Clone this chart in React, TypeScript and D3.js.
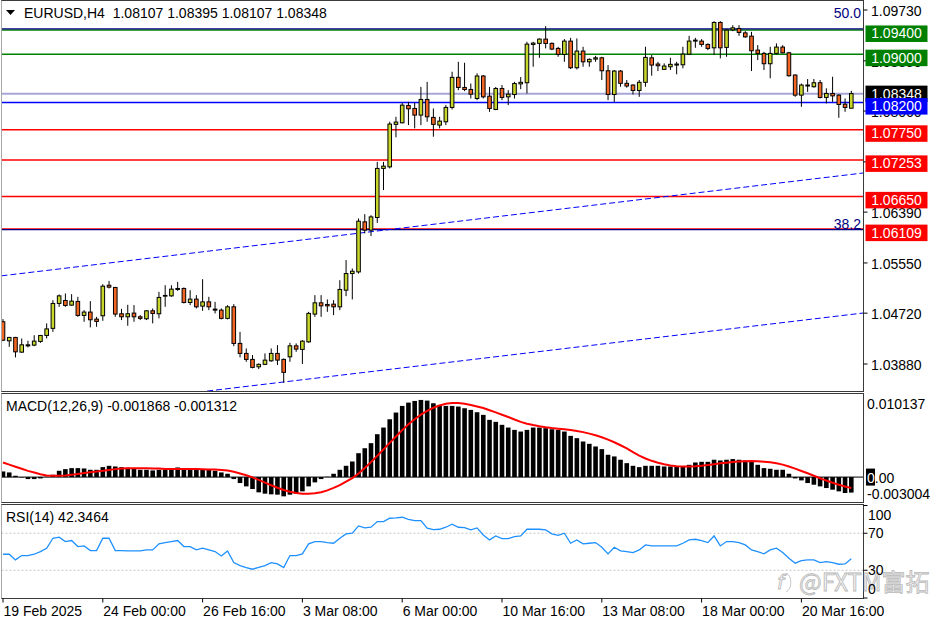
import * as d3 from "d3";

// EURUSD H4, 19 Feb - 21 Mar 2025
const opens = [
  1.04578, 1.04263, 1.04319, 1.04076, 1.0418, 1.04192, 1.04253, 1.04352, 1.04469, 1.04881,
  1.0493, 1.04853, 1.04914, 1.04683, 1.04738, 1.04622, 1.04677, 1.05182, 1.05145, 1.0471,
  1.0466, 1.04721, 1.0466, 1.04627, 1.04759, 1.0471, 1.05001, 1.05006, 1.05112, 1.05128,
  1.04897, 1.04952, 1.04836, 1.04907, 1.04787, 1.0477, 1.04634, 1.04825, 1.0422, 1.04055,
  1.03956, 1.03834, 1.03874, 1.03933, 1.04055, 1.03956, 1.03999, 1.0418, 1.04121, 1.04246,
  1.04705, 1.04891, 1.04864, 1.04869, 1.04825, 1.051, 1.05375, 1.05402, 1.06229, 1.06092,
  1.06301, 1.07112, 1.07138, 1.0784, 1.07866, 1.08153, 1.08103, 1.07993, 1.08252, 1.07955,
  1.07828, 1.07883, 1.0812, 1.08617, 1.0845, 1.08417, 1.08268, 1.08639, 1.08306, 1.08087,
  1.08433, 1.08295, 1.08334, 1.08509, 1.08528, 1.09161, 1.09178, 1.09249, 1.09178, 1.09095,
  1.08996, 1.09216, 1.08776, 1.09051, 1.08874, 1.08919, 1.0894, 1.08726, 1.08334, 1.08721,
  1.08518, 1.0849, 1.084, 1.08535, 1.0894, 1.08837, 1.08749, 1.08792, 1.0882, 1.08825,
  1.09001, 1.09216, 1.09216, 1.09161, 1.09105, 1.09524, 1.09112, 1.09402, 1.09425, 1.09352,
  1.09298, 1.09067, 1.09013, 1.08842, 1.09013, 1.09117, 1.09023, 1.08655, 1.08323, 1.08474,
  1.08462, 1.08528, 1.08285, 1.08351, 1.08323, 1.08174, 1.08107,
];
const highs = [
  1.04622, 1.04328, 1.04328, 1.04302, 1.04263, 1.04356, 1.04356, 1.04551, 1.04935, 1.05029,
  1.05046, 1.05034, 1.0499, 1.0477, 1.04919, 1.0466, 1.05199, 1.05253, 1.05154, 1.04792,
  1.04858, 1.04853, 1.04688, 1.0477, 1.04798, 1.05072, 1.05182, 1.05182, 1.05237, 1.05145,
  1.051, 1.05018, 1.05281, 1.0499, 1.04907, 1.04798, 1.04853, 1.04869, 1.04411, 1.04137,
  1.04027, 1.0389, 1.04055, 1.04137, 1.04192, 1.03972, 1.0423, 1.0422, 1.04274, 1.04742,
  1.05018, 1.05018, 1.04947, 1.04935, 1.05265, 1.05597, 1.05458, 1.06285, 1.06356, 1.06339,
  1.0722, 1.0722, 1.07883, 1.07965, 1.08196, 1.08212, 1.08196, 1.08459, 1.08542, 1.08103,
  1.07965, 1.08158, 1.0871, 1.08874, 1.08858, 1.08515, 1.08683, 1.08655, 1.08459, 1.08459,
  1.0849, 1.08405, 1.08542, 1.08622, 1.09204, 1.09204, 1.0926, 1.09463, 1.09194, 1.09122,
  1.09249, 1.0927, 1.0926, 1.09122, 1.0893, 1.08973, 1.08957, 1.0882, 1.08738, 1.08738,
  1.08573, 1.08502, 1.08573, 1.09122, 1.08985, 1.08874, 1.08848, 1.0894, 1.08874, 1.09122,
  1.09303, 1.0927, 1.09249, 1.09178, 1.09545, 1.09545, 1.09413, 1.09479, 1.09479, 1.0938,
  1.09369, 1.0915, 1.09039, 1.09122, 1.09178, 1.0915, 1.09039, 1.08667, 1.08515, 1.08589,
  1.08589, 1.08573, 1.08436, 1.08627, 1.08339, 1.08268, 1.08395,
];
const lows = [
  1.04258, 1.04164, 1.03989, 1.04065, 1.04154, 1.04175, 1.0423, 1.04302, 1.04411, 1.04825,
  1.04825, 1.04841, 1.0466, 1.04578, 1.04485, 1.04495, 1.04594, 1.05128, 1.0466, 1.04606,
  1.04512, 1.04578, 1.04606, 1.04606, 1.04551, 1.04634, 1.04825, 1.0499, 1.05089, 1.04881,
  1.04853, 1.04798, 1.04759, 1.0477, 1.04716, 1.04617, 1.04617, 1.04175, 1.03989, 1.03916,
  1.03808, 1.03796, 1.03862, 1.03916, 1.03862, 1.0357, 1.03916, 1.04081, 1.03879, 1.0423,
  1.0466, 1.0466, 1.04742, 1.04688, 1.0477, 1.05001, 1.04947, 1.05375, 1.06038, 1.05993,
  1.06212, 1.06754, 1.07112, 1.07626, 1.07856, 1.07828, 1.07774, 1.07828, 1.07883, 1.07636,
  1.07774, 1.07828, 1.08087, 1.08405, 1.08389, 1.08268, 1.0824, 1.08268, 1.08047, 1.08075,
  1.0824, 1.08158, 1.08268, 1.08422, 1.08351, 1.08792, 1.0894, 1.09095, 1.09067, 1.08957,
  1.08874, 1.08754, 1.08749, 1.08792, 1.08792, 1.08874, 1.08573, 1.0824, 1.08212, 1.08462,
  1.08446, 1.08334, 1.08295, 1.08462, 1.08644, 1.08721, 1.08738, 1.08738, 1.08667, 1.08766,
  1.08985, 1.09105, 1.09122, 1.09067, 1.08985, 1.0893, 1.08957, 1.0938, 1.09303, 1.0927,
  1.08721, 1.08902, 1.08738, 1.08601, 1.08996, 1.09013, 1.08627, 1.08295, 1.0813, 1.08377,
  1.08446, 1.08268, 1.08186, 1.08212, 1.07949, 1.08047, 1.08107,
];
const closes = [
  1.04274, 1.04319, 1.04081, 1.04197, 1.04197, 1.04258, 1.04352, 1.0446, 1.04881, 1.05006,
  1.04848, 1.04919, 1.04683, 1.04738, 1.04611, 1.04584, 1.05166, 1.0515, 1.04705, 1.0466,
  1.0471, 1.0466, 1.04634, 1.04759, 1.04716, 1.0498, 1.05013, 1.05117, 1.05128, 1.04897,
  1.04952, 1.04825, 1.04907, 1.04825, 1.0477, 1.04634, 1.04825, 1.0422, 1.04055, 1.03956,
  1.03824, 1.03874, 1.03944, 1.04055, 1.03944, 1.03742, 1.0418, 1.04126, 1.04258, 1.04716,
  1.04891, 1.04841, 1.04841, 1.04825, 1.05112, 1.05375, 1.05413, 1.0624, 1.06092, 1.06311,
  1.07112, 1.0715, 1.07845, 1.07878, 1.08158, 1.08097, 1.07993, 1.08252, 1.07965, 1.0784,
  1.07894, 1.0812, 1.08617, 1.0845, 1.08417, 1.08339, 1.08639, 1.08295, 1.08103, 1.08433,
  1.08285, 1.08339, 1.08515, 1.08535, 1.09166, 1.09183, 1.09249, 1.09178, 1.09084, 1.08996,
  1.09216, 1.08776, 1.09051, 1.08874, 1.08914, 1.0894, 1.08726, 1.08334, 1.08721, 1.08518,
  1.08474, 1.084, 1.08535, 1.08947, 1.0882, 1.08809, 1.08804, 1.08832, 1.08837, 1.09001,
  1.09216, 1.09232, 1.09161, 1.09095, 1.09524, 1.09105, 1.09397, 1.09435, 1.09359, 1.09286,
  1.09056, 1.09013, 1.08842, 1.09013, 1.09117, 1.09023, 1.08644, 1.08323, 1.0849, 1.0849,
  1.08528, 1.08285, 1.08351, 1.08311, 1.08169, 1.0812, 1.08348,
];

const macdHist = [
  0.00068, 0.00056, 0.00016, -0.00005, -0.00024, -0.00024, -0.00016, 0.00004, 0.00028, 0.00076,
  0.00096, 0.00108, 0.00108, 0.00104, 0.00088, 0.00088, 0.0012, 0.00136, 0.00128, 0.0012,
  0.00112, 0.00104, 0.00088, 0.00088, 0.0008, 0.00088, 0.00088, 0.00104, 0.00116, 0.00108,
  0.00104, 0.00088, 0.00096, 0.00088, 0.00076, 0.00056, 0.0004, -0.00024, -0.00072, -0.00112,
  -0.00144, -0.00184, -0.002, -0.00208, -0.00212, -0.00232, -0.00212, -0.002, -0.00172, -0.00112,
  -0.00064, -0.00024, 0.00004, 0.0004, 0.00088, 0.00136, 0.00188, 0.00288, 0.00348, 0.00409,
  0.00517, 0.00597, 0.00697, 0.00778, 0.00858, 0.00898, 0.00918, 0.0093, 0.00922, 0.0089,
  0.0087, 0.00858, 0.00858, 0.0085, 0.0083, 0.0081, 0.00782, 0.0075, 0.0069, 0.00666,
  0.0063, 0.00597, 0.00569, 0.00549, 0.00569, 0.00597, 0.00597, 0.0059, 0.00577, 0.00569,
  0.00549, 0.00497, 0.00469, 0.00429, 0.00401, 0.00369, 0.00337, 0.00269, 0.00249, 0.00209,
  0.00168, 0.00136, 0.0012, 0.00136, 0.00136, 0.00136, 0.00128, 0.00128, 0.00128, 0.00128,
  0.00148, 0.00176, 0.00184, 0.00184, 0.00209, 0.002, 0.00209, 0.00217, 0.00209, 0.002,
  0.00188, 0.00148, 0.00108, 0.001, 0.00088, 0.00088, 0.0004, -0.00016, -0.0004, -0.00072,
  -0.00092, -0.00112, -0.00132, -0.00152, -0.00172, -0.00192, -0.001868,
];
const macdSignal = [
  0.00176, 0.0015, 0.00125, 0.001, 0.00075, 0.00055, 0.00035, 0.0002, 0.00016, 0.00016,
  0.0002, 0.00028, 0.00036, 0.00048, 0.00058, 0.00068, 0.00076, 0.00086, 0.00096, 0.00102,
  0.00106, 0.00108, 0.00108, 0.00106, 0.00104, 0.00102, 0.00098, 0.00096, 0.00096, 0.00096,
  0.00096, 0.00096, 0.00094, 0.00092, 0.0009, 0.00086, 0.00078, 0.00064, 0.00044, 0.00022,
  -0.00004, -0.00034, -0.00066, -0.00098, -0.00128, -0.00156, -0.00176, -0.00192, -0.002, -0.00202,
  -0.00196, -0.00182, -0.0016, -0.0013, -0.00096, -0.00056, -0.00012, 0.00044, 0.0011, 0.0018,
  0.00256, 0.00334, 0.00412, 0.0049, 0.00566, 0.00636, 0.00698, 0.00752, 0.00798, 0.00836,
  0.00864, 0.00884, 0.00892, 0.00892, 0.00884, 0.0087, 0.00852, 0.00832, 0.00806, 0.0078,
  0.00752, 0.00724, 0.00694, 0.00666, 0.00644, 0.00628, 0.00614, 0.00602, 0.00592, 0.00584,
  0.00576, 0.00568, 0.00556, 0.00542, 0.00524, 0.00504, 0.0048, 0.00452, 0.0042, 0.00384,
  0.00346, 0.003, 0.00258, 0.00224, 0.00196, 0.00172, 0.00154, 0.0014, 0.00132, 0.00128,
  0.00128, 0.00132, 0.00138, 0.00146, 0.00156, 0.00166, 0.00174, 0.00182, 0.00188, 0.00192,
  0.00194, 0.00192, 0.00186, 0.00178, 0.00166, 0.0015, 0.00128, 0.00102, 0.00074, 0.00046,
  0.00016, -0.00014, -0.00042, -0.00068, -0.00092, -0.00114, -0.001312,
];
const rsiValues = [
  47.3, 47.3, 41.2, 45.9, 45.9, 47.3, 50.2, 53.8, 64.6, 65.7,
  61.0, 62.1, 55.6, 56.3, 51.3, 51.3, 64.6, 64.6, 51.3, 51.3,
  50.9, 50.9, 50.9, 52.0, 52.0, 58.5, 59.9, 61.0, 62.1, 55.6,
  55.6, 52.0, 53.8, 52.0, 50.2, 45.5, 50.9, 38.3, 35.0, 32.9,
  31.1, 33.2, 35.0, 38.3, 36.8, 32.9, 45.9, 45.9, 47.7, 58.5,
  61.0, 61.0, 59.9, 59.2, 64.6, 69.3, 70.0, 77.9, 75.8, 76.5,
  82.6, 82.6, 86.2, 86.6, 87.3, 85.1, 83.7, 83.7, 75.4, 74.0,
  74.3, 76.5, 79.7, 76.5, 76.1, 73.6, 75.8, 68.2, 62.8, 67.1,
  64.2, 64.2, 66.4, 67.1, 74.3, 74.3, 74.3, 73.6, 69.3, 67.8,
  70.0, 59.2, 62.8, 58.5, 59.2, 59.9, 54.9, 47.7, 54.9, 50.9,
  50.2, 49.1, 52.0, 57.4, 56.3, 56.3, 56.3, 56.3, 56.3, 59.2,
  62.8, 63.5, 62.1, 59.9, 67.1, 56.3, 61.0, 61.0, 59.9, 57.4,
  52.0, 50.2, 47.7, 52.0, 53.8, 49.1, 43.0, 37.6, 40.4, 41.2,
  41.2, 38.3, 39.4, 38.3, 36.5, 36.8, 42.3464,
];

const timeLabels = [
  "19 Feb 2025", "24 Feb 00:00", "26 Feb 16:00", "3 Mar 08:00", "6 Mar 00:00",
  "10 Mar 16:00", "13 Mar 08:00", "18 Mar 00:00", "20 Mar 16:00",
];
const barsPerTimeLabel = 16;

const priceTicks = [1.0973, 1.0889, 1.0806, 1.0722, 1.0639, 1.0555, 1.0472, 1.0388];
const levelPrices = [1.094, 1.09, 1.082, 1.0775, 1.07253, 1.0665, 1.06109];
const levelKinds = ["res", "res", "pivot", "sup", "sup", "sup", "sup"];
const fibNames = ["50.0", "38.2"];
const fibPrices = [1.09418, 1.061];
const channelUpper = [[0, 1.0534], [136, 1.07013]];
const channelLower = [[0, 1.03031], [136, 1.04699]];
const macdMax = 0.010137;
const macdMin = -0.003004;
const rsiLevels = [70, 30];
const rsiScaleLabels = [100, 70, 30, 0];

const FONT = "'Liberation Sans', Arial, sans-serif";
const W = 936;
const H = 624;
const MAIN = { top: 0.5, bottom: 391.5 };
const MACD = { top: 393.5, bottom: 502.5 };
const RSI = { top: 504.5, bottom: 598.5 };
const LEFT = 1.5;
const RIGHT = 863.5;

const BULL = "#c6d62b";
const BEAR = "#f26522";
const LEVEL_COLOR: Record<string, string> = { res: "#008000", pivot: "#0000ff", sup: "#ff0000" };

export default function App() {
  const last = closes.length - 1;
  const x = d3.scaleLinear().domain([0, last]).range([3, 851.3]);
  const y = d3.scaleLinear().domain([d3.min(priceTicks)!, d3.max(priceTicks)!]).range([364, 10]);
  const ym = d3.scaleLinear().domain([macdMin, macdMax]).range([502, 393]);
  const yr = d3.scaleLinear().domain([0, 100]).range([598, 505.5]);

  const clamp = (v: number, lo: number, hi: number) => Math.max(lo, Math.min(hi, v));

  const channelPath = (pts: number[][]) => {
    const x0 = x(pts[0][0]), y0 = y(pts[0][1]);
    const x1 = x(pts[1][0]), y1 = y(pts[1][1]);
    const k = (y1 - y0) / (x1 - x0);
    return `M${LEFT},${y0 + k * (LEFT - x0)}L${RIGHT},${y0 + k * (RIGHT - x0)}`;
  };

  const signalLine = d3.line<number>().x((_, i) => x(i)).y((d) => ym(d))(macdSignal) || "";
  const rsiLine = d3.line<number>().x((_, i) => x(i)).y((d) => yr(d))(rsiValues) || "";

  const cur = closes[last];
  const header = `EURUSD,H4  ${opens[last].toFixed(5)} ${highs[last].toFixed(5)} ${lows[last].toFixed(5)} ${closes[last].toFixed(5)}`;
  const zeroTxt = (0).toFixed(2);

  const levelBox = (p: number, color: string, centered: boolean, key: string) => {
    const ly = y(p);
    const top = centered ? ly - 8 : ly - 4.5;
    return (
      <g key={key}>
        <rect x={865.5} y={top} width={62} height={16.5} fill={color} />
        <text x={896.5} y={top + 13} textAnchor="middle" fill="#fff" fontSize={14}>
          {p.toFixed(5)}
        </text>
      </g>
    );
  };

  return (
    <svg
      width={W}
      height={H}
      style={{ position: "fixed", left: 0, top: 0, background: "#fff", fontFamily: FONT }}
    >
      <defs>
        <clipPath id="mainClip">
          <rect x={LEFT} y={MAIN.top} width={RIGHT - LEFT} height={MAIN.bottom - MAIN.top} />
        </clipPath>
        <clipPath id="macdClip">
          <rect x={LEFT} y={MACD.top} width={RIGHT - LEFT} height={MACD.bottom - MACD.top} />
        </clipPath>
        <clipPath id="rsiClip">
          <rect x={LEFT} y={RSI.top} width={RIGHT - LEFT} height={RSI.bottom - RSI.top} />
        </clipPath>
      </defs>
      <rect x={0} y={0} width={W} height={H} fill="#fff" />

      {/* main price window */}
      <g clipPath="url(#mainClip)">
        {levelPrices.map((p, i) => (
          <line key={"lv" + i} x1={LEFT} x2={RIGHT} y1={y(p)} y2={y(p)}
            stroke={LEVEL_COLOR[levelKinds[i]]} strokeWidth={1.5} />
        ))}
        {fibPrices.map((p, i) => (
          <line key={"fb" + i} x1={LEFT} x2={RIGHT} y1={y(p)} y2={y(p)} stroke="#000080" strokeWidth={1.4} />
        ))}
        <line x1={LEFT} x2={RIGHT} y1={y(cur)} y2={y(cur)} stroke="#a6a6d8" strokeWidth={2} />
        <path d={channelPath(channelUpper)} stroke="#0000ff" strokeWidth={1} strokeDasharray="6,3" fill="none" />
        <path d={channelPath(channelLower)} stroke="#0000ff" strokeWidth={1} strokeDasharray="6,3" fill="none" />

        {closes.map((c, i) => {
          const o = opens[i];
          const cx = x(i);
          const top = y(Math.max(o, c));
          const bot = y(Math.min(o, c));
          const bull = c >= o;
          return (
            <g key={"c" + i}>
              <line x1={cx} x2={cx} y1={y(highs[i])} y2={y(lows[i])} stroke="#000" strokeWidth={1} />
              <rect x={cx - 1.8} y={top} width={3.6} height={Math.max(bot - top, 0.6)}
                fill={bull ? BULL : BEAR} stroke="#000" strokeWidth={1} />
            </g>
          );
        })}

        {fibNames.map((f, i) => (
          <text key={"fn" + i} x={861} y={y(fibPrices[i]) - (i === 0 ? 11 : 1)} textAnchor="end"
            fill="#000080" fontSize={14}>{f}</text>
        ))}
      </g>

      {/* MACD window */}
      <g clipPath="url(#macdClip)">
        <line x1={LEFT} x2={RIGHT} y1={ym(0)} y2={ym(0)} stroke="#000" strokeWidth={1} />
        {macdHist.map((v, i) => (
          <rect key={"h" + i} x={x(i) - 2.3} width={4.6}
            y={Math.min(ym(v), ym(0))} height={Math.abs(ym(v) - ym(0))} fill="#000" />
        ))}
        <path d={signalLine} fill="none" stroke="#ff0000" strokeWidth={2} />
      </g>
      <text x={6} y={410.5} fontSize={14} fill="#000" style={{ whiteSpace: "pre" }}>
        {`MACD(12,26,9) ${macdHist[last].toFixed(6)} ${macdSignal[last].toFixed(6)}`}
      </text>

      {/* RSI window */}
      <g clipPath="url(#rsiClip)">
        {rsiLevels.map((l) => (
          <line key={"rl" + l} x1={LEFT} x2={RIGHT} y1={yr(l)} y2={yr(l)}
            stroke="#c4c4c4" strokeWidth={1} strokeDasharray="2,2" />
        ))}
        <path d={rsiLine} fill="none" stroke="#1e90ff" strokeWidth={1.3} />
      </g>
      <text x={6} y={521.5} fontSize={14} fill="#000">{`RSI(14) ${rsiValues[last].toFixed(4)}`}</text>

      {/* panel frames */}
      {[MAIN, MACD, RSI].map((p, i) => (
        <g key={"f" + i}>
          <rect x={LEFT} y={p.top} width={RIGHT - LEFT} height={p.bottom - p.top} fill="none" stroke="#3a3a3a" strokeWidth={1} />
          <line x1={LEFT} x2={LEFT} y1={p.top} y2={p.bottom} stroke="#a8a8a8" strokeWidth={1} />
        </g>
      ))}

      {/* header */}
      <path d="M6,10L15,10L10.5,15Z" fill="#000" />
      <text x={24} y={18} fontSize={14} fill="#000" style={{ whiteSpace: "pre" }}>{header}</text>

      {/* watermark (sits under the scale labels) */}
      <g stroke="#b8b8b8" strokeWidth={0.8}>
        <path d="M786,573 A7,10 0 0 1 786,592" fill="none" />
        <text x={777} y={589} fontSize={20} fontStyle="italic" fill="#fff"
          fontFamily="'DejaVu Sans', sans-serif">f</text>
        <text x={799} y={591} fontSize={24} fill="#f2f2f2"
          fontFamily="'Noto Sans CJK SC', 'Noto Sans', sans-serif">@FXTM富拓</text>
      </g>

      {/* price axis */}
      {priceTicks.map((p) => (
        <g key={"pt" + p}>
          <line x1={RIGHT} x2={RIGHT + 4} y1={y(p)} y2={y(p)} stroke="#000" />
          <text x={871} y={y(p) + 6} fontSize={14} fill="#000">{p.toFixed(5)}</text>
        </g>
      ))}
      {levelPrices.slice(0, 2).map((p, i) => levelBox(p, LEVEL_COLOR[levelKinds[i]], false, "lb" + i))}
      {levelBox(cur, "#000", true, "cur")}
      {levelPrices.slice(2).map((p, i) => levelBox(p, LEVEL_COLOR[levelKinds[i + 2]], false, "lc" + i))}

      {/* MACD axis */}
      <text x={867} y={clamp(ym(macdMax), MACD.top + 10, MACD.bottom - 10) + 5} fontSize={14}>
        {macdMax.toFixed(6)}
      </text>
      <rect x={866} y={ym(0) - 8.5} width={9} height={17} fill="#000" />
      <text x={867} y={ym(0) + 5.5} fontSize={14}>
        <tspan fill="#fff">{zeroTxt[0]}</tspan>
        <tspan fill="#000">{zeroTxt.slice(1)}</tspan>
      </text>
      <text x={867} y={clamp(ym(macdMin), MACD.top + 10, MACD.bottom - 10) + 6} fontSize={14}>
        {macdMin.toFixed(6)}
      </text>

      {/* RSI axis */}
      {rsiScaleLabels.map((v) => (
        <g key={"ra" + v}>
          <line x1={RIGHT} x2={RIGHT + 4} y1={yr(v)} y2={yr(v)} stroke="#000" />
          <text x={868} y={clamp(yr(v), RSI.top + 10, RSI.bottom - 10) + 5} fontSize={14}>{v}</text>
        </g>
      ))}

      {/* time axis */}
      {timeLabels.map((t, k) => {
        const tx = x(k * barsPerTimeLabel);
        return (
          <g key={"tl" + k}>
            <line x1={tx} x2={tx} y1={RSI.bottom} y2={RSI.bottom + 4} stroke="#000" />
            <text x={tx + 0.5} y={615.5} fontSize={14} fill="#000">{t}</text>
          </g>
        );
      })}
    </svg>
  );
}
